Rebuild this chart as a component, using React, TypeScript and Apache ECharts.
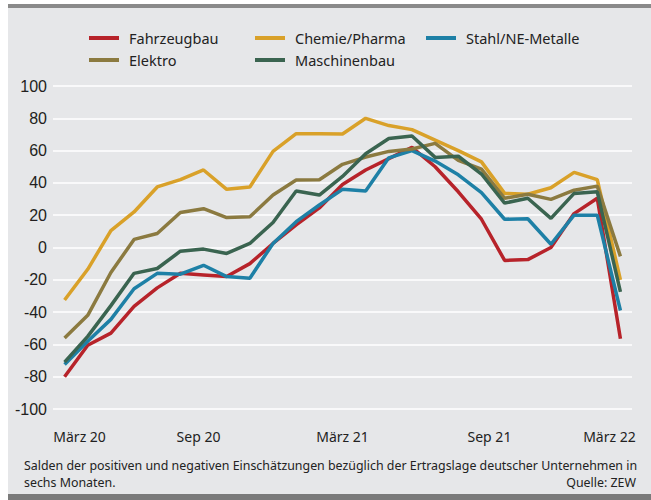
import React, { useEffect, useRef } from "react";
import * as echarts from "echarts";

const months = [
  "Mär 20", "Apr 20", "Mai 20", "Jun 20", "Jul 20", "Aug 20", "Sep 20", "Okt 20", "Nov 20", "Dez 20",
  "Jan 21", "Feb 21", "Mär 21", "Apr 21", "Mai 21", "Jun 21", "Jul 21", "Aug 21", "Sep 21", "Okt 21",
  "Nov 21", "Dez 21", "Jan 22", "Feb 22", "Mär 22",
];
const tickLabels: Record<number, string> = { 0: "März 20", 6: "Sep 20", 12: "März 21", 18: "Sep 21", 24: "März 22" };

const fahrzeugbau = [-80, -60.5, -53, -36.5, -25, -16, -17, -18, -10, 2.5, 14, 24.5, 39, 48, 55, 62, 50, 34.5, 17.5, -8, -7.5, 0, 21, 30.5, -56.5];
const chemie = [-32.5, -13.5, 10.5, 22, 37.5, 42, 48, 36, 37.5, 59.5, 70.5, 70.5, 70.3, 80, 75.5, 73, 66.5, 60, 53, 33.5, 33, 37, 46.5, 42, -20];
const stahl = [-72.5, -58, -44.5, -25.5, -16, -16.5, -11, -18, -19, 2.5, 16, 26.3, 36, 35, 55.5, 60, 53.5, 45, 34, 17.5, 17.8, 2, 20, 20, -39];
const elektro = [-56, -42, -15.5, 5, 8.7, 21.7, 24, 18.5, 19, 32.5, 41.8, 42, 51.5, 56, 59.5, 61, 64.5, 54, 48.5, 30.5, 33, 29.8, 35.5, 38, -5.5];
const maschinenbau = [-71, -55, -36, -16, -13, -2.3, -1, -3.7, 2.5, 15.5, 35, 32.5, 44, 58, 67.5, 69, 55.8, 56.5, 45.5, 27.5, 30.5, 18, 33.5, 34.5, -27.5];

const seriesNames = ["Fahrzeugbau", "Chemie/Pharma", "Stahl/NE-Metalle", "Elektro", "Maschinenbau"];
const seriesData = [fahrzeugbau, chemie, stahl, elektro, maschinenbau];
const colors = ["#b7232a", "#d9a129", "#1e80a6", "#8b7a40", "#3a6450"];

const footnote1 = "Salden der positiven und negativen Einschätzungen bezüglich der Ertragslage deutscher Unternehmen in";
const footnote2 = "sechs Monaten.";
const source = "Quelle: ZEW";

const SANS = "'Noto Sans', 'Open Sans', sans-serif";

export default function App() {
  const ref = useRef<HTMLDivElement>(null);
  useEffect(() => {
    if (!ref.current) return;
    const chart = echarts.init(ref.current, null, { renderer: "svg" });
    const legendPos = [
      { left: 89, top: 28 },
      { left: 255, top: 28 },
      { left: 426, top: 28 },
      { left: 89, top: 50 },
      { left: 255, top: 50 },
    ];
    chart.setOption({
      animation: false,
      color: colors,
      legend: seriesNames.map((n, i) => ({
        data: [n],
        left: legendPos[i].left,
        top: legendPos[i].top,
        icon: "rect",
        itemWidth: 30,
        itemHeight: 4,
        padding: 0,
        textStyle: { fontFamily: SANS, fontSize: 14.5, color: "#222", lineHeight: 20, padding: [0, 0, 0, 5] },
      })),
      grid: { left: 53, right: 19, top: 86, bottom: 91 },
      xAxis: {
        type: "category",
        data: months,
        boundaryGap: true,
        axisLine: { show: false },
        axisTick: { show: false },
        axisLabel: {
          interval: 5,
          margin: 20,
          formatter: (v: string, idx: number) => {
            const t = tickLabels[idx] ?? "";
            const key = ["a", "b", "c", "d", "e"][idx / 6] ?? "c";
            return `{${key}|${t}}`;
          },
          rich: {
            a: { fontFamily: SANS, fontSize: 14, color: "#222", padding: [0, 0, 0, 30] },
            b: { fontFamily: SANS, fontSize: 14, color: "#222", padding: [0, 10, 0, 0] },
            c: { fontFamily: SANS, fontSize: 14, color: "#222" },
            d: { fontFamily: SANS, fontSize: 14, color: "#222", padding: [0, 0, 0, 16] },
            e: { fontFamily: SANS, fontSize: 14, color: "#222", padding: [0, 22, 0, 0] },
          },
        },
        splitLine: { show: false },
      },
      yAxis: {
        type: "value",
        min: -100,
        max: 100,
        interval: 20,
        axisLine: { show: false },
        axisTick: { show: false },
        axisLabel: { fontFamily: "'Liberation Sans', Arial, sans-serif", fontSize: 16, color: "#231f20", margin: 6 },
        splitLine: { lineStyle: { color: "#ffffff", width: 1.5 } },
      },
      graphic: [
        { type: "rect", z: -10, shape: { x: 8, y: 8, width: 643, height: 486 }, style: { fill: "#e6e7e9" } },
        { type: "rect", z: -10, shape: { x: 8, y: 4, width: 643, height: 4 }, style: { fill: "#8a8a8a" } },
        { type: "rect", z: -10, shape: { x: 8, y: 494, width: 643, height: 6 }, style: { fill: "#7a7a7a" } },
        { type: "text", left: 24, top: 459, style: { text: footnote1, fontFamily: SANS, fontSize: 12.4, fill: "#222" } },
        { type: "text", left: 24, top: 476, style: { text: footnote2, fontFamily: SANS, fontSize: 12.4, fill: "#222" } },
        { type: "text", right: 15, top: 476, style: { text: source, fontFamily: SANS, fontSize: 12.4, fill: "#222" } },
      ],
      series: seriesNames.map((n, i) => ({
        name: n,
        type: "line",
        data: seriesData[i],
        symbol: "none",
        lineStyle: { width: 3.5, color: colors[i] },
        itemStyle: { color: colors[i] },
      })),
    });
    return () => chart.dispose();
  }, []);
  return <div ref={ref} style={{ position: "absolute", left: 0, top: 0, width: 651, height: 500 }} />;
}
